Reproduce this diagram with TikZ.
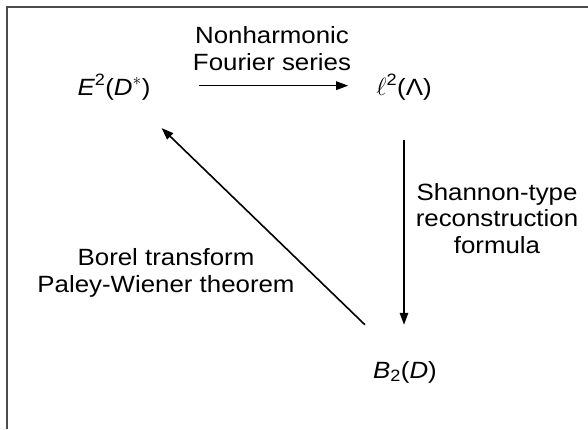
\documentclass[tikz,border=0pt]{standalone}
\usepackage{fontspec}
\setmainfont[FakeStretch=1.1]{Liberation Sans}
\usetikzlibrary{arrows.meta}
\begin{document}
\begin{tikzpicture}[x=1pt,y=-1pt,
  lbl/.style={inner sep=0pt,anchor=base,align=center,font=\fontsize{23.5}{26.5}\selectfont},
  arr/.style={line width=1.6pt,-{Triangle[length=12pt,width=8.5pt]}},
  frameline/.style={draw=black!70,line width=1.4pt}]
\useasboundingbox (0,0) rectangle (588,429);
\draw[frameline] (588,7) -- (7,7) -- (7,429);
\node[lbl] (E) at (114,95) {{\itshape E}\textsuperscript{2}({\itshape D}$^{*}$)};
\node[lbl] (L) at (404,95) {$\ell$\textsuperscript{2}(Λ)};
\node[lbl] (B) at (405,378) {{\itshape B}\textsubscript{2}({\itshape D})};
\node[lbl] (t1) at (272,70) {Nonharmonic\\Fourier series};
\node[lbl] (t2) at (497,253) {Shannon-type\\reconstruction\\formula};
\node[lbl] (t3) at (166,292) {Borel transform\\Paley-Wiener theorem};
\draw[arr] ([xshift=48pt,yshift=1.5pt]E.east) -- ([xshift=-28pt,yshift=1.5pt]L.west);
\draw[arr] ([yshift=-40pt]L.south) -- ([yshift=36pt]B.north -| L.south);
\draw[arr] ([xshift=-8pt,yshift=36pt]B.north west) -- ([xshift=11pt,yshift=-28pt]E.south east);
\end{tikzpicture}
\end{document}
